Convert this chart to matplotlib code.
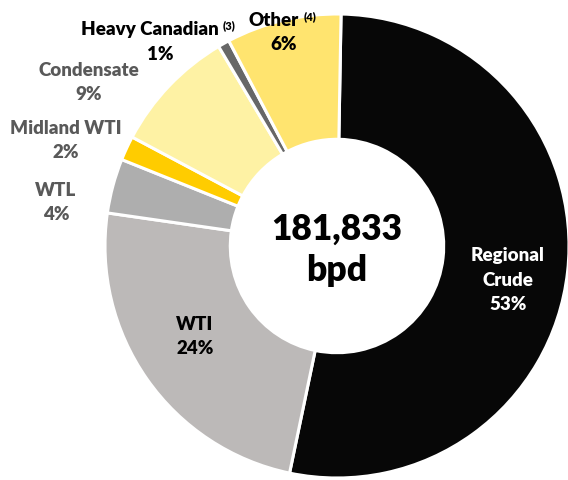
import matplotlib
matplotlib.use("Agg")
from matplotlib import pyplot as plt

# crude slate shares (slice sizes, labels as printed)
categories = ['Regional\nCrude', 'WTI', 'WTL', 'Midland WTI', 'Condensate',
              'Heavy Canadian', 'Other']
shares = [53.0, 24.0, 3.8, 1.7, 8.7, 0.8, 8.0]
pct_labels = ['53%', '24%', '4%', '2%', '9%', '1%', '6%']
notes = ['', '', '', '', '', '(3)', '(4)']
total_text = '181,833\nbpd'

colors = ['#070707', '#bcb9b8', '#aeaeae', '#ffcc00', '#fef2a4', '#676767', '#ffe46f']
text_colors = ['white', 'black', '#595959', '#595959', '#595959', 'black', 'black']

plt.rcParams['font.family'] = ['Lato', 'DejaVu Sans']

W, H = 568, 480
cx, cy, R = 337, 246, 232  # pie centre and radius in pixels

fig = plt.figure(figsize=(W / 100, H / 100), dpi=100)
ax = fig.add_axes([(cx - R) / W, (H - cy - R) / H, 2 * R / W, 2 * R / H])

ax.pie(shares, colors=colors, startangle=89, counterclock=False, radius=1.0,
       wedgeprops=dict(width=0.54, edgecolor='white', linewidth=2.2))
ax.set_xlim(-1, 1)
ax.set_ylim(-1, 1)
ax.set_aspect('equal')
ax.axis('off')


def px(x, y):
    return (x - cx) / R, (cy - y) / R


# label centres in pixels
label_pos = [(508, 280), (195, 337), (56, 203), (66, 140), (89, 82),
             (160, 41), (284, 32)]
font = dict(fontsize=13.5, fontweight='heavy')

for i, name in enumerate(categories):
    x, y = px(*label_pos[i])
    if not notes[i]:
        ax.text(x, y, name + '\n' + pct_labels[i], ha='center', va='center',
                color=text_colors[i], linespacing=1.5, **font)
        continue
    # name + footnote marker on one line, share centred beneath the pair
    nx, ny = px(label_pos[i][0] - 10, label_pos[i][1] - 12)
    t = ax.text(nx, ny, name, ha='center', va='center', color=text_colors[i], **font)
    ax.annotate(notes[i], xy=(1, 1), xycoords=t, xytext=(3, 0),
                textcoords='offset points', ha='left', va='top',
                fontsize=8, fontweight='heavy', color=text_colors[i])
    px2, py2 = px(label_pos[i][0], label_pos[i][1] + 13)
    ax.text(px2, py2, pct_labels[i], ha='center', va='center',
            color=text_colors[i], **font)

ax.text(0, (cy - 250) / R, total_text, ha='center', va='center', fontsize=25.5,
        fontweight='heavy', color='black', linespacing=1.3)

fig.savefig('out.png', dpi=100)
